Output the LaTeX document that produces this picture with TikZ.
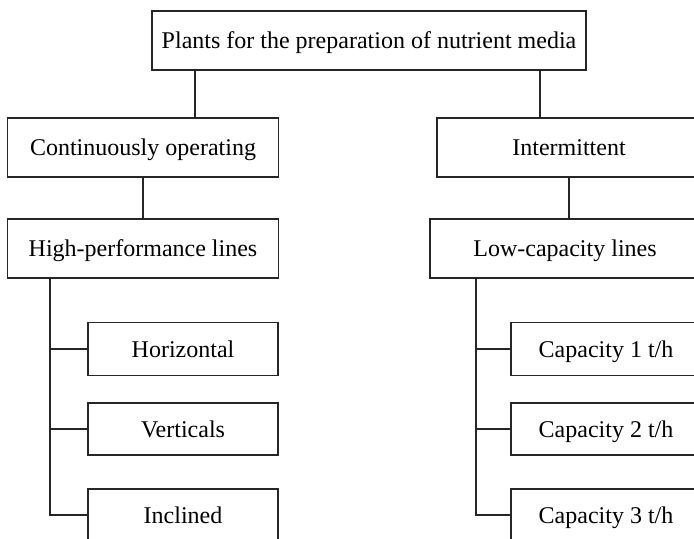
\documentclass[tikz,border=0pt]{standalone}
\usepackage{fontspec}
\setmainfont{Liberation Serif}
\usepackage{tikz}

\begin{document}
\begin{tikzpicture}[x=0.5pt,y=-0.5pt, inner sep=1mm,
  box/.style={rectangle, draw=black!85, line width=0.8pt, fill=white, font=\fontsize{12}{14}\selectfont, text depth=0pt, minimum height=29.5pt, minimum width=95pt},
  link/.style={-, draw=black!85, line width=0.8pt}]
\clip (0,0) rectangle (694,538);
\node (top) at (369,40.5) [box, minimum width=217pt] {Plants for the preparation of nutrient media};
\node (cont) at (143,147.5) [box, minimum width=135.5pt] {Continuously operating};
\node (hp) at (143,248.5) [box, minimum width=135.5pt] {High-performance lines};
\node (int) at (569,147.5) [box, minimum width=132pt] {Intermittent};
\node (lc) at (565,248.5) [box, minimum width=135pt] {Low-capacity lines};
\node (hor) at (183,349) [box, minimum height=26.5pt] {Horizontal};
\node (ver) at (183,429) [box, minimum height=26pt] {Verticals};
\node (inc) at (183,515) [box, minimum height=26pt] {Inclined};
\node (c1) at (606,349) [box, minimum height=26.5pt] {Capacity 1 t/h};
\node (c2) at (606,429) [box, minimum height=26pt] {Capacity 2 t/h};
\node (c3) at (606,515) [box, minimum height=26pt] {Capacity 3 t/h};
\coordinate (l) at (195,0);
\coordinate (r) at (540,0);
\coordinate (lt) at (50,0);
\coordinate (rt) at (476,0);
\draw[link] (top.south -| l) -- (cont.north -| l);
\draw[link] (top.south -| r) -- (int.north -| r);
\draw[link] (cont.south) -- (hp.north);
\draw[link] (int.south) -- (int.south |- lc.north);
\draw[link] (hp.south -| lt) |- (inc.west);
\draw[link] (lt |- hor.west) -- (hor.west);
\draw[link] (lt |- ver.west) -- (ver.west);
\draw[link] (lc.south -| rt) |- (c3.west);
\draw[link] (rt |- c1.west) -- (c1.west);
\draw[link] (rt |- c2.west) -- (c2.west);
\end{tikzpicture}
\end{document}
